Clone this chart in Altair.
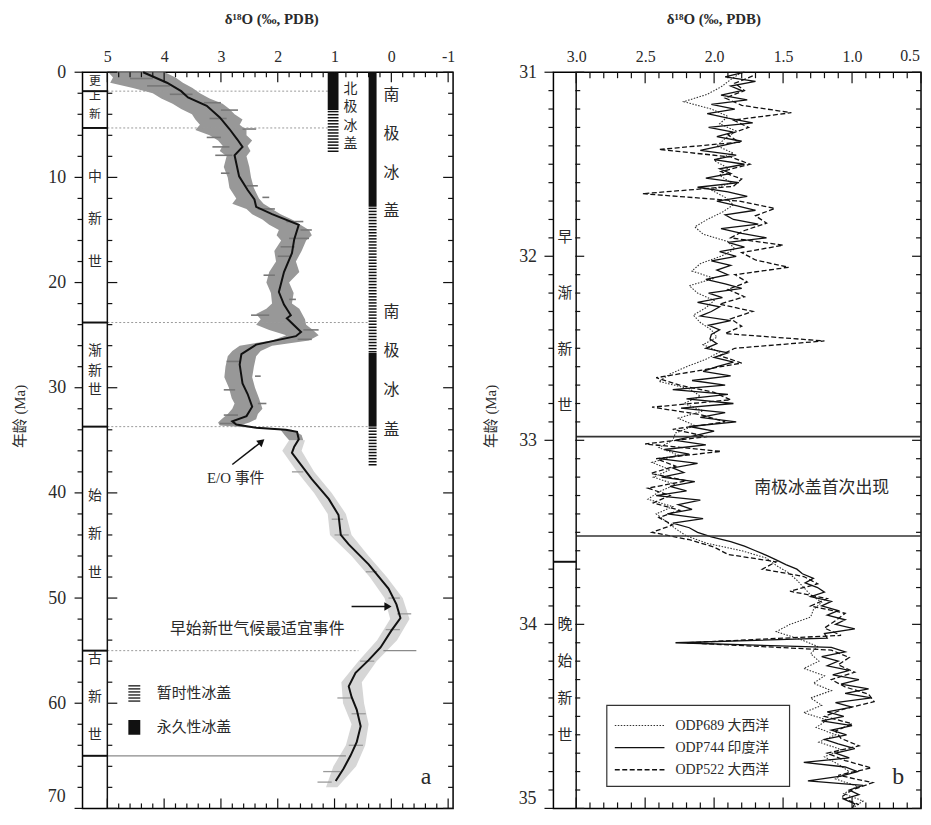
import altair as alt
import pandas as pd

SERIF = "Liberation Serif"
CJK = "Noto Sans CJK SC"
MIX = "Liberation Serif, Noto Sans CJK SC"
K = "#111111"
TXT = "#2a2a2a"

# ================= panel a : Cenozoic deep-sea d18O =================
CURVE_AGE = [0.0, 1.0, 1.8, 2.4, 3.2, 4.3, 5.4, 6.4, 7.1, 7.9,
             9.9, 11.2, 12.1, 12.8, 13.5, 14.5, 15.9, 17.2, 19.0, 20.9,
             22.1, 23.1, 23.4, 24.7, 25.1, 25.9, 26.8, 27.8, 29.6, 30.6,
             31.8, 32.7, 33.2, 33.5, 33.8, 34.0, 34.2, 34.9, 35.6, 36.2,
             38.7, 40.6, 42.1, 44.0, 44.9, 46.8, 49.1, 50.6, 51.9, 53.1,
             54.7, 55.9, 57.1, 58.4, 59.4, 60.6, 62.2, 63.7, 65.0, 66.2, 67.4]
CURVE_D18O = [4.37, 3.95, 3.70, 3.58, 3.25, 3.02, 2.85, 2.71, 2.62, 2.76,
              2.68, 2.53, 2.41, 2.38, 2.10, 1.63, 1.71, 1.75, 1.89, 1.98,
              1.89, 1.77, 1.84, 1.59, 1.68, 2.38, 2.64, 2.67, 2.62, 2.53,
              2.45, 2.55, 2.80, 2.73, 2.38, 1.86, 1.66, 1.63, 1.71, 1.75,
              1.40, 1.10, 0.93, 0.89, 0.75, 0.40, 0.05, -0.09, -0.16, 0.00,
              0.19, 0.40, 0.63, 0.75, 0.70, 0.61, 0.54, 0.61, 0.72, 0.84, 0.98]

# dense scatter envelope (0-35 Ma)
BAND_AGE = [0, 0.5, 1, 1.5, 2, 2.5, 3, 3.5, 4, 4.5, 5, 5.5, 6, 6.5, 7, 7.5, 8, 9, 10, 11,
            12, 12.5, 13, 13.5, 14, 14.5, 15, 15.5, 16, 17, 18, 19, 20, 21, 22, 22.5, 23, 23.5, 24, 24.5,
            25, 25.5, 26, 26.5, 27, 28, 29, 30, 31, 31.5, 32, 32.5, 33, 33.3, 33.6, 34, 34.5, 35]
BAND_HEAVY = [4.98, 4.90, 4.95, 4.55, 4.20, 4.05, 3.85, 3.70, 3.51, 3.45, 3.37, 3.45, 3.20, 3.05, 2.97, 3.02, 2.90, 2.95, 2.88, 2.85,
              2.73, 2.80, 2.55, 2.45, 2.27, 2.15, 1.98, 2.02, 1.94, 2.06, 2.03, 2.15, 2.20, 2.12, 2.10, 2.20, 2.38, 2.30, 2.38, 2.15,
              1.85, 2.10, 2.67, 2.80, 2.88, 2.92, 2.94, 2.86, 2.81, 2.76, 2.80, 2.88, 2.99, 3.05, 3.02, 1.95, 1.88, 1.80]
BAND_LIGHT = [3.99, 3.80, 3.67, 3.50, 3.37, 3.20, 2.97, 2.85, 2.76, 2.62, 2.67, 2.55, 2.55, 2.45, 2.53, 2.48, 2.55, 2.50, 2.47, 2.42,
              2.33, 2.25, 2.10, 1.95, 1.75, 1.60, 1.45, 1.40, 1.50, 1.58, 1.68, 1.62, 1.80, 1.72, 1.75, 1.62, 1.57, 1.52, 1.50, 1.38,
              1.28, 1.45, 2.10, 2.30, 2.38, 2.42, 2.45, 2.40, 2.33, 2.30, 2.27, 2.35, 2.38, 2.50, 2.67, 1.75, 1.58, 1.55]
# sparse scatter envelope (35-68 Ma)
SPARSE_AGE = [35, 36, 38, 40, 42, 44, 46, 48, 50, 52, 54, 56, 58, 60, 62, 64, 66, 68]
SPARSE_HEAVY = [1.80, 1.92, 1.66, 1.36, 1.12, 1.08, 0.70, 0.38, 0.12, 0.02, 0.25, 0.58, 0.88, 0.85, 0.70, 0.80, 1.02, 1.15]
SPARSE_LIGHT = [1.52, 1.58, 1.36, 1.05, 0.80, 0.70, 0.40, 0.08, -0.20, -0.32, -0.10, 0.26, 0.52, 0.48, 0.40, 0.46, 0.62, 0.95]
# individual scattered measurements seen as short dashes
DASH_AGE = [0.6, 1.3, 2.1, 2.9, 3.6, 4.4, 5.4, 6.2, 7.1, 7.9, 9.6, 10.8, 11.9, 13.0, 14.2, 15.0,
            15.8, 16.6, 17.5, 19.3, 21.6, 23.1, 24.5, 25.4, 27.5, 28.9, 30.2, 31.5, 32.6, 33.4]
DASH_HEAVY = [4.6, 4.3, 3.9, 3.3, 3.0, 3.2, 2.62, 3.25, 3.15, 3.10, 3.0, 2.55, 2.27, 2.35, 1.85, 1.60,
              1.80, 1.95, 2.00, 2.25, 1.80, 2.47, 1.55, 1.65, 2.90, 2.40, 2.95, 2.35, 2.95, 3.02]
DASH_LIGHT = [4.2, 3.9, 3.5, 3.0, 2.7, 2.9, 2.38, 3.00, 2.85, 2.80, 2.85, 2.35, 2.15, 2.05, 1.55, 1.40,
              1.45, 1.70, 1.75, 2.05, 1.68, 2.15, 1.28, 1.40, 2.65, 2.30, 2.75, 2.20, 2.70, 2.73]
FLECK_AGE = [38, 42.5, 44, 47.5, 50, 51.5, 53, 56, 59.5, 61, 64, 66.5, 67.5]
FLECK_HEAVY = [1.75, 1.05, 1.00, 0.45, 0.05, -0.10, 0.10, 0.55, 0.95, 0.70, 0.75, 1.20, 1.30]
FLECK_LIGHT = [1.55, 0.85, 0.75, 0.25, -0.15, -0.35, -0.15, 0.30, 0.70, 0.45, 0.50, 0.90, 1.05]

EPOCH_BOUNDS_A = [1.8, 5.3, 23.8, 33.7, 55.0, 65.0]
EPOCH_LABELS_SMALL_A = [("更", 0.84, 0.0), ("上新", 2.3, 1.7)]
EPOCH_LABELS_A = [("中新世", 10.0, 4.0), ("渐新世", 26.5, 1.87), ("始新世", 40.3, 3.65), ("古新世", 55.8, 3.6)]
GUIDE_AGE = [1.8, 5.3, 23.8, 33.7, 55.0]
GUIDE_END = [1.10, 1.10, 0.40, 0.40, 0.58]

NH_BAR = (1.12, 0.93)
SH_BAR = (0.40, 0.26)
NH_PERM = [(0.0, 3.6)]
NH_TEMP = [(3.6, 7.6)]
SH_PERM = [(0.0, 12.8), (26.7, 33.7)]
SH_TEMP = [(12.8, 26.7), (33.7, 37.4)]

# ================= panel b : E/O transition, three ODP sites =================
AGE_744 = [round(31 + 0.025 * i, 3) for i in range(161)]
D18O_744 = [1.78, 1.92, 1.70, 1.88, 1.80, 1.95, 1.76, 2.02,
            1.85, 2.05, 1.90, 1.72, 2.04, 1.86, 1.98, 1.80,
            1.95, 2.10, 1.84, 2.00, 1.78, 1.96, 1.88, 2.06,
            1.82, 2.12, 1.90, 1.76, 1.98, 1.84, 1.70, 1.92,
            1.86, 1.68, 1.95, 1.80, 1.62, 1.90, 1.78, 1.96,
            1.84, 2.02, 1.88, 1.98, 1.90, 2.06, 1.92, 1.80,
            2.04, 1.94, 2.12, 1.96, 2.02, 2.10, 1.88, 2.04,
            1.96, 2.02, 2.03, 1.98, 2.06, 1.90, 2.00, 1.86,
            1.98, 2.08, 1.88, 2.16, 1.92, 2.30, 1.90, 2.20,
            1.86, 2.24, 1.92, 2.10, 1.84, 2.18, 2.00, 2.14,
            2.28, 2.06, 2.36, 2.18, 2.40, 2.12, 2.30, 2.22,
            2.38, 2.14, 2.32, 2.20, 2.42, 2.10, 2.26, 2.16,
            2.34, 2.08, 2.30, 2.18, 2.12, 2.02, 1.88, 1.78,
            1.70, 1.62, 1.55, 1.48, 1.40, 1.36, 1.28, 1.34,
            1.25, 1.20, 1.30, 1.15, 1.22, 1.10, 1.18, 1.05,
            1.12, 0.98, 1.20, 1.18, 2.28, 1.15, 1.05, 1.22,
            1.10, 1.18, 1.02, 1.14, 0.95, 1.08, 0.88, 1.05,
            0.86, 1.12, 1.00, 1.18, 1.06, 1.22, 1.00, 1.15,
            1.04, 1.20, 1.10, 0.98, 1.12, 1.02, 1.35, 1.05,
            0.96, 1.08, 1.32, 0.92, 1.02, 0.95, 1.06, 0.98,
            1.00]
AGE_689 = [round(31 + 0.04 * i, 3) for i in range(101)]
D18O_689 = [1.80, 1.88, 1.95, 2.05, 2.22,
            2.02, 1.90, 1.96, 1.84, 1.92,
            1.98, 1.86, 2.00, 1.90, 1.96,
            1.88, 2.02, 1.92, 1.86, 1.94,
            2.05, 2.14, 2.08, 1.90, 1.85,
            1.95, 2.10, 2.16, 2.00, 2.18,
            2.12, 2.00, 2.06, 2.15, 2.10,
            2.02, 1.98, 2.08, 1.96, 2.06,
            2.20, 2.32, 2.40, 2.18, 2.10,
            2.22, 2.08, 2.26, 2.14, 2.28,
            2.30, 2.40, 2.26, 2.45, 2.32,
            2.44, 2.28, 2.40, 2.48, 2.30,
            2.42, 2.35, 2.28, 2.20, 2.05,
            1.80, 1.62, 1.55, 1.46, 1.40,
            1.35, 1.30, 1.22, 1.28, 1.30,
            1.45, 1.55, 1.38, 1.25, 1.30,
            1.24, 1.35, 1.20, 1.28, 1.15,
            1.30, 1.22, 1.35, 1.18, 1.26,
            1.12, 1.24, 1.08, 1.20, 1.10,
            1.02, 1.12, 0.96, 1.06, 0.92,
            1.00]
AGE_522 = [round(31.02 + 0.04 * i, 3) for i in range(100)]
D18O_522 = [1.72, 1.85, 1.78, 1.92, 1.80,
            1.44, 1.86, 1.75, 1.90, 1.82,
            2.40, 1.88, 1.74, 1.95, 1.80,
            1.86, 2.52, 1.82, 1.56, 1.70,
            1.62, 1.78, 1.88, 1.50, 1.80,
            1.70, 1.46, 1.85, 1.76, 1.90,
            1.78, 1.96, 1.72, 1.88, 1.80,
            1.92, 1.20, 1.85, 1.96, 1.80,
            2.10, 2.42, 2.25, 2.00, 1.88,
            2.45, 2.10, 1.92, 2.30, 2.05,
            2.50, 1.95, 2.42, 2.28, 2.46,
            2.20, 2.48, 2.32, 2.44, 2.25,
            2.40, 2.30, 2.45, 2.18, 2.00,
            1.90, 1.55, 1.65, 1.35, 1.25,
            1.45, 1.18, 1.30, 1.05, 1.12,
            1.20, 1.08, 2.20, 1.15, 1.02,
            1.10, 0.98, 1.15, 1.05, 0.88,
            0.84, 1.06, 1.20, 1.00, 1.12,
            1.08, 0.95, 1.18, 1.05, 0.86,
            1.10, 0.85, 1.00, 1.08, 0.95]

ICE_EVENT_B = [32.98, 33.52]
EPOCH_BOUND_B = 33.66
EPOCH_LABELS_B = [("早渐新世", 31.893, 0.305), ("晚始新世", 34.0, 0.2)]
SERIES_B = ["ODP689 大西洋", "ODP744 印度洋", "ODP522 大西洋"]

# ================= geometry =================
W_A, W_B, H = 373, 370, 741
SA = 25   # strip width (px) panel a
SB = 22   # strip width (px) panel b
XA = alt.Scale(domain=[-1.087, 5.437], reverse=True, nice=False, zero=False)
YA = alt.Scale(domain=[0, 70], reverse=True, nice=False, zero=False)
XB = alt.Scale(domain=[0.5, 3.165], reverse=True, nice=False, zero=False)
YB = alt.Scale(domain=[31, 35], reverse=True, nice=False, zero=False)

title_d18o = "δ¹⁸O (‰, PDB)"
top_common = dict(orient="top", ticks=False, domain=False, grid=False, labelFont=SERIF,
                  labelFontSize=16, labelColor=TXT, labelPadding=8, labelFlush=False,
                  title=title_d18o, titleFont=SERIF, titleFontSize=15, titleFontWeight="bold",
                  titleColor=TXT, titleBaseline="middle", titleY=-54)
left_common = dict(orient="left", format="d", ticks=False, domain=False, grid=False,
                   labelFont=SERIF, labelFontSize=18, labelColor=TXT, labelPadding=17,
                   title="年龄 (Ma)", titleFont=MIX, titleFontSize=15, titleFontWeight="normal",
                   titleColor=TXT, titleY=346, titleX=-55)
AX_TOP_A = alt.Axis(values=[5, 4, 3, 2, 1, 0, -1], format="d",
                    labelExpr="replace(datum.label, '−', '-')", titleX=190, **top_common)
AX_LEFT_A = alt.Axis(values=[0, 10, 20, 30, 40, 50, 60], **left_common)
AX_TOP_B = alt.Axis(values=[3.0, 2.5, 2.0, 1.5, 1.0], format=".1f", titleX=161, **top_common)
AX_LEFT_B = alt.Axis(values=[31, 32, 33, 34], **left_common)
AXES = {"a": (AX_TOP_A, AX_LEFT_A, XA, YA), "b": (AX_TOP_B, AX_LEFT_B, XB, YB)}


def xq(f, p):
    return alt.X(f, type="quantitative", scale=AXES[p][2], axis=AXES[p][0])


def yq(f, p):
    return alt.Y(f, type="quantitative", scale=AXES[p][3], axis=AXES[p][1])


def text_layer(df, size, p, font=CJK, color=TXT, align="center"):
    return alt.Chart(df).mark_text(font=font, fontSize=size, color=color, align=align,
                                   baseline="middle").encode(
        x=xq("x", p), y=yq("y", p), text="t:N")


def expand(labels, xpos):
    rows = []
    for s, a0, step in labels:
        for k, ch in enumerate(s):
            rows.append({"t": ch, "x": xpos, "y": a0 + k * step})
    return pd.DataFrame(rows)


def stripes(segments, xl, xr, period):
    rows = []
    for a0, a1 in segments:
        a = a0 + period / 2
        while a < a1:
            rows.append({"y": a, "x": xl, "x2": xr})
            a += period
    return pd.DataFrame(rows)


def hrule(df, p, **kw):
    return alt.Chart(df).mark_rule(**kw).encode(y=yq("y", p), x=xq("x", p), x2="x2")


def tick_layers(xvals, xmajor, yvals, ymajor, p, w, strip_px, lens):
    (top_M, top_m, out_M, out_m, in_M, in_m) = lens
    dxM = pd.DataFrame({"v": [v for v in xvals if xmajor(v)]})
    dxm = pd.DataFrame({"v": [v for v in xvals if not xmajor(v)]})
    dyM = pd.DataFrame({"v": [v for v in yvals if ymajor(v)]})
    dym = pd.DataFrame({"v": [v for v in yvals if not ymajor(v)]})
    L = []
    for d, ln in ((dxM, top_M), (dxm, top_m)):
        L.append(alt.Chart(d).mark_rule(color=K, strokeWidth=1.2).encode(
            x=xq("v", p), y=alt.value(0), y2=alt.value(ln)))
        L.append(alt.Chart(d).mark_rule(color=K, strokeWidth=1.2).encode(
            x=xq("v", p), y=alt.value(H), y2=alt.value(H - ln)))
    for d, lo, li in ((dyM, out_M, in_M), (dym, out_m, in_m)):
        L.append(alt.Chart(d).mark_rule(color=K, strokeWidth=1.2).encode(
            y=yq("v", p), x=alt.value(-lo), x2=alt.value(0)))
        L.append(alt.Chart(d).mark_rule(color=K, strokeWidth=1.2).encode(
            y=yq("v", p), x=alt.value(strip_px), x2=alt.value(strip_px + li)))
        L.append(alt.Chart(d).mark_rule(color=K, strokeWidth=1.2).encode(
            y=yq("v", p), x=alt.value(w - li), x2=alt.value(w)))
    return L


def edge_label(text, yval, p, size=18):
    # the last axis label, set just above the panel's lower edge as in the original
    return alt.Chart(pd.DataFrame({"t": [text], "y": [yval]})).mark_text(
        font=SERIF, fontSize=size, color=TXT, align="right", baseline="middle").encode(
        x=alt.value(-17), y=yq("y", p), text="t:N")


# ---------------- panel a layers ----------------
curve_df = pd.DataFrame({"age": CURVE_AGE, "d": CURVE_D18O})
band_df = pd.DataFrame({"age": BAND_AGE, "hi": BAND_HEAVY, "lo": BAND_LIGHT})
sparse_df = pd.DataFrame({"age": SPARSE_AGE, "hi": SPARSE_HEAVY, "lo": SPARSE_LIGHT})

layers_a = []
layers_a.append(alt.Chart(sparse_df).mark_area(orient="horizontal", color="#d6d6d6").encode(
    y=yq("age", "a"), x=xq("hi", "a"), x2="lo"))
layers_a.append(alt.Chart(band_df).mark_area(orient="horizontal", color="#989898").encode(
    y=yq("age", "a"), x=xq("hi", "a"), x2="lo"))
layers_a.append(hrule(pd.DataFrame({"y": DASH_AGE, "x": DASH_HEAVY, "x2": DASH_LIGHT}), "a",
                      color="#777777", strokeWidth=1.6))
layers_a.append(hrule(pd.DataFrame({"y": FLECK_AGE, "x": FLECK_HEAVY, "x2": FLECK_LIGHT}), "a",
                      color="#9a9a9a", strokeWidth=1.3))

guide_df = pd.DataFrame({"y": GUIDE_AGE, "x": [5.0] * len(GUIDE_AGE), "x2": GUIDE_END})
layers_a.append(hrule(guide_df, "a", color="#9a9a9a", strokeWidth=1, strokeDash=[2, 2]))
solid_guide = pd.DataFrame({"y": [55.0, 65.0], "x": [0.14, 5.0], "x2": [-0.44, 0.80]})
layers_a.append(hrule(solid_guide, "a", color="#8a8a8a", strokeWidth=1.3))

perm = pd.DataFrame(
    [{"x": NH_BAR[0], "x2": NH_BAR[1], "y": a, "y2": b} for a, b in NH_PERM] +
    [{"x": SH_BAR[0], "x2": SH_BAR[1], "y": a, "y2": b} for a, b in SH_PERM])
layers_a.append(alt.Chart(perm).mark_rect(color=K).encode(
    x=xq("x", "a"), x2="x2", y=yq("y", "a"), y2="y2"))
temp = pd.concat([stripes(NH_TEMP, NH_BAR[0], NH_BAR[1], 0.29),
                  stripes(SH_TEMP, SH_BAR[0], SH_BAR[1], 0.29)])
layers_a.append(hrule(temp, "a", color=K, strokeWidth=1.5))

layers_a.append(alt.Chart(curve_df).mark_line(color=K, strokeWidth=2).encode(
    x=xq("d", "a"), y=yq("age", "a"), order="age:Q"))

# strip
layers_a.append(alt.Chart(pd.DataFrame({"x": [5.0]})).mark_rule(color=K, strokeWidth=1.5).encode(
    x=xq("x", "a")))
eb = pd.DataFrame({"y": EPOCH_BOUNDS_A, "x": [5.437] * 6, "x2": [5.0] * 6})
layers_a.append(hrule(eb, "a", color=K, strokeWidth=2))
layers_a.append(text_layer(expand(EPOCH_LABELS_SMALL_A, 5.219), 12, "a"))
layers_a.append(text_layer(expand(EPOCH_LABELS_A, 5.219), 14, "a"))

# ice-sheet labels
layers_a.append(text_layer(expand([("北极冰盖", 1.6, 1.75)], 0.72), 14, "a"))
layers_a.append(text_layer(expand([("南极冰盖", 2.2, 3.67), ("南极冰盖", 22.8, 3.73)], 0.0), 16, "a"))

# legend of ice-sheet types
leg_temp = stripes([(58.2, 59.8)], 4.63, 4.42, 0.29)
layers_a.append(hrule(leg_temp, "a", color="#333", strokeWidth=1.5))
leg_perm = pd.DataFrame({"x": [4.63], "x2": [4.42], "y": [61.6], "y2": [63.0]})
layers_a.append(alt.Chart(leg_perm).mark_rect(color=K).encode(
    x=xq("x", "a"), x2="x2", y=yq("y", "a"), y2="y2"))
layers_a.append(text_layer(pd.DataFrame({"t": ["暂时性冰盖", "永久性冰盖"], "x": [4.13, 4.13],
                                         "y": [59.0, 62.3]}), 15, "a", align="left"))

# events
layers_a.append(text_layer(pd.DataFrame({"t": ["E/O 事件"], "x": [2.74], "y": [38.6]}), 15, "a", font=MIX))
layers_a.append(text_layer(pd.DataFrame({"t": ["早始新世气候最适宜事件"], "x": [2.36], "y": [52.9]}), 16, "a"))
arrows_a = pd.DataFrame({"x": [2.80, 0.70], "x2": [2.30, 0.08], "y": [37.3, 50.8], "y2": [35.2, 50.8]})
layers_a.append(alt.Chart(arrows_a).mark_rule(color=K, strokeWidth=1.5).encode(
    x=xq("x", "a"), x2="x2", y=yq("y", "a"), y2="y2"))
layers_a.append(alt.Chart(pd.DataFrame({"x": [2.30], "y": [35.2]})).mark_point(
    shape="triangle", filled=True, size=70, angle=50, color=K, opacity=1).encode(
    x=xq("x", "a"), y=yq("y", "a")))
layers_a.append(alt.Chart(pd.DataFrame({"x": [0.08], "y": [50.8]})).mark_point(
    shape="triangle", filled=True, size=70, angle=90, color=K, opacity=1).encode(
    x=xq("x", "a"), y=yq("y", "a")))
layers_a.append(text_layer(pd.DataFrame({"t": ["a"], "x": [-0.61], "y": [67.0]}), 24, "a", font=SERIF))
layers_a.append(edge_label("70", 68.9, "a"))

TA_X = [round(-1 + 0.2 * i, 1) for i in range(31)]
TA_Y = list(range(0, 71, 2))
layers_a += tick_layers(TA_X, lambda v: abs(v - round(v)) < 1e-6, TA_Y, lambda v: v % 10 == 0,
                        "a", W_A, SA, (10, 5, 8, 5, 10, 5))

panel_a = alt.layer(*layers_a).properties(width=W_A, height=H)

# ---------------- panel b layers ----------------
layers_b = []
s689 = pd.DataFrame({"age": AGE_689, "d": D18O_689})
s744 = pd.DataFrame({"age": AGE_744, "d": D18O_744})
s522 = pd.DataFrame({"age": AGE_522, "d": D18O_522})
layers_b.append(alt.Chart(s689).mark_line(color="#333", strokeWidth=1.1, strokeDash=[1.5, 1.5]).encode(
    x=xq("d", "b"), y=yq("age", "b"), order="age:Q"))
layers_b.append(alt.Chart(s522).mark_line(color=K, strokeWidth=1.3, strokeDash=[5, 2.5]).encode(
    x=xq("d", "b"), y=yq("age", "b"), order="age:Q"))
layers_b.append(alt.Chart(s744).mark_line(color=K, strokeWidth=1.3).encode(
    x=xq("d", "b"), y=yq("age", "b"), order="age:Q"))

ice_b = pd.DataFrame({"y": ICE_EVENT_B, "x": [3.0, 3.0], "x2": [0.5, 0.5]})
layers_b.append(hrule(ice_b, "b", color="#333", strokeWidth=1.6))
layers_b.append(text_layer(pd.DataFrame({"t": ["南极冰盖首次出现"], "x": [1.22], "y": [33.26]}), 17, "b"))

layers_b.append(alt.Chart(pd.DataFrame({"x": [3.0]})).mark_rule(color=K, strokeWidth=1.5).encode(
    x=xq("x", "b")))
layers_b.append(hrule(pd.DataFrame({"y": [EPOCH_BOUND_B], "x": [3.165], "x2": [3.0]}), "b",
                      color=K, strokeWidth=2))
layers_b.append(text_layer(expand(EPOCH_LABELS_B, 3.082), 15, "b"))

box = pd.DataFrame({"x": [2.778], "x2": [1.453], "y": [34.44], "y2": [34.88]})
layers_b.append(alt.Chart(box).mark_rect(fill="white", stroke="#333", strokeWidth=1.2).encode(
    x=xq("x", "b"), x2="x2", y=yq("y", "b"), y2="y2"))
LEG_Y = [34.55, 34.67, 34.79]
styles = [("#333", 1.1, [1.5, 1.5]), (K, 1.3, None), (K, 1.3, [5, 2.5])]
for yy, (col, sw, dash) in zip(LEG_Y, styles):
    kw = dict(color=col, strokeWidth=sw)
    if dash:
        kw["strokeDash"] = dash
    layers_b.append(hrule(pd.DataFrame({"y": [yy], "x": [2.72], "x2": [2.36]}), "b", **kw))
layers_b.append(text_layer(pd.DataFrame({"t": SERIES_B, "x": [2.28] * 3, "y": LEG_Y}), 14, "b",
                           font=MIX, align="left"))
layers_b.append(text_layer(pd.DataFrame({"t": ["b"], "x": [0.665], "y": [34.83]}), 24, "b", font=SERIF))
layers_b.append(edge_label("35", 34.95, "b"))
# last top label, flush with the right edge
layers_b.append(alt.Chart(pd.DataFrame({"t": ["0.5"], "x": [0.5]})).mark_text(
    font=SERIF, fontSize=16, color=TXT, align="right", baseline="bottom", dx=-1).encode(
    x=xq("x", "b"), y=alt.value(-8), text="t:N"))

TB_X = [round(0.5 + 0.1 * i, 1) for i in range(26)]
TB_Y = [round(31 + 0.1 * i, 1) for i in range(41)]
layers_b += tick_layers(TB_X, lambda v: abs(v * 2 - round(v * 2)) < 1e-6, TB_Y,
                        lambda v: abs(v - round(v)) < 1e-6, "b", W_B, SB, (11, 6, 9, 5, 9, 5))

panel_b = alt.layer(*layers_b).properties(width=W_B, height=H)

chart = alt.hconcat(panel_a, panel_b, spacing=27).properties(
    padding={"left": 4, "top": 0, "right": 0, "bottom": 0}
).configure_view(stroke="black", strokeWidth=1.5)

chart.save("out.html", embed_options={"renderer": "svg", "actions": False})
